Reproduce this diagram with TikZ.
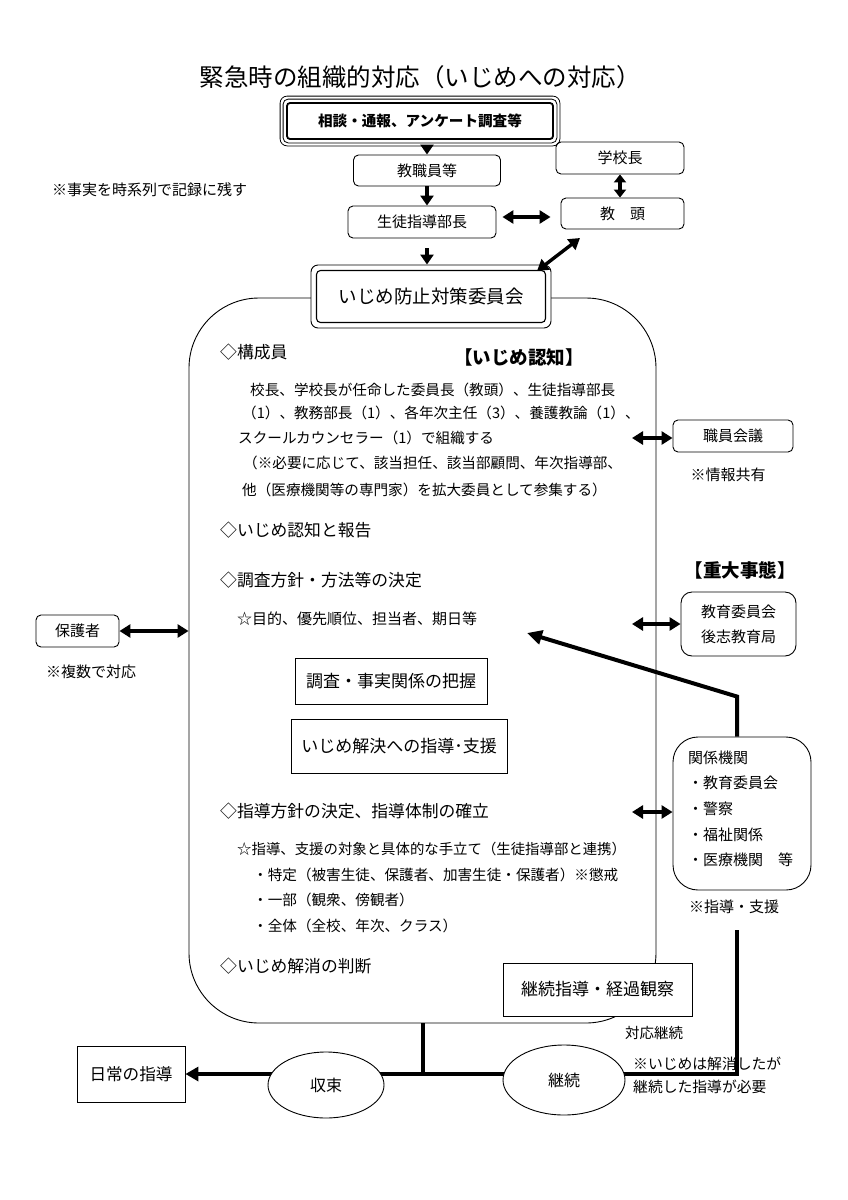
\documentclass[tikz,border=0pt]{standalone}
\usepackage{fontspec}
\newfontfamily\jp{Noto Sans CJK JP}
\usetikzlibrary{shapes.geometric,arrows.meta,calc}
\newcommand{\fsz}[1]{\fontsize{#1}{#1}\selectfont}
\begin{document}
\begin{tikzpicture}[x=1pt,y=-1pt,
  every node/.style={font=\jp},
  box/.style={draw, line width=0.9pt, rounded corners=5pt, inner sep=0pt, font=\jp\fsz{15}},
  sq/.style={draw, line width=0.9pt, inner sep=0pt, font=\jp\fsz{17}},
  txt/.style={anchor=west, inner sep=0pt, font=\jp\fsz{14.6}},
  head/.style={anchor=west, inner sep=0pt, font=\jp\fsz{16.8}},
  note/.style={inner sep=0pt, font=\jp\fsz{15}},
  darr/.style={line width=3.4pt, {Triangle[length=11pt,width=13pt]}-{Triangle[length=11pt,width=13pt]}},
  sdarr/.style={line width=3.4pt, {Triangle[length=8pt,width=12pt]}-{Triangle[length=8pt,width=12pt]}},
  arr/.style={line width=3.4pt, -{Triangle[length=10pt,width=13pt]}},
  thk/.style={line width=4pt},
]
\useasboundingbox (0,0) rectangle (848,1200);

% title
\node[font=\jp\fsz{24.5}] (title) at (420,77) {緊急時の組織的対応（いじめへの対応）};

% top box with triple frame
\node[draw, line width=1.8pt, rounded corners=3pt, inner sep=0pt, minimum width=266pt, minimum height=36pt, font=\jp\bfseries\fsz{14.6}] (soudan) at (420,121) {相談・通報、アンケート調査等};
\draw[line width=0.8pt, rounded corners=5pt] ($(soudan.north west)+(-3,-3)$) rectangle ($(soudan.south east)+(3,3)$);
\draw[line width=0.8pt, rounded corners=7pt] ($(soudan.north west)+(-6,-6)$) rectangle ($(soudan.south east)+(6,6)$);

\node[box, minimum width=147pt, minimum height=31pt] (kyo) at (427,170.5) {教職員等};
\node[box, minimum width=148pt, minimum height=32pt] (seito) at (422,222) {生徒指導部長};
\node[box, minimum width=128pt, minimum height=32pt] (gakko) at (620,158) {学校長};
\node[box, minimum width=123pt, minimum height=31pt] (kyoto) at (622.5,213.5) {教　頭};

\node[note, anchor=west] (n1) at (52,190) {※事実を時系列で記録に残す};

% main rounded box
\node[draw, line width=0.9pt, rounded corners=70pt, minimum width=467pt, minimum height=725pt, inner sep=0pt] (main) at (422.5,660.5) {};

% committee box (double frame)
\node[draw, fill=white, line width=0.9pt, rounded corners=7pt, minimum width=240pt, minimum height=63pt, inner sep=0pt] (iinkaiO) at (431,296.5) {};
\node[draw, line width=1.1pt, rounded corners=4pt, minimum width=229pt, minimum height=52pt, inner sep=0pt, font=\jp\fsz{18.5}] (iinkai) at (iinkaiO) {いじめ防止対策委員会};

% top arrows
\draw[arr] ($(soudan.south -| kyo.north)+(0,6)$) -- (kyo.north);
\draw[arr] (kyo.south) -- (kyo.south |- seito.north);
\draw[arr] ($(kyo.south |- seito.south)+(0,10)$) -- (kyo.south |- iinkaiO.north);
\draw[darr] ($(seito.east)+(6,-5)$) -- ($(kyoto.west |- seito.east)+(-10,-5)$);
\draw[sdarr] (gakko.south) -- (gakko.south |- kyoto.north);
\coordinate (dA) at (537,271);
\coordinate (dB) at (580,238);
\draw[darr] (dA) -- (dB);

% contents of the main box
\node[head] (h1) at (220,352) {◇構成員};
\node[font=\jp\bfseries\fsz{18.5}, inner sep=0pt] (ninchi) at (519,357) {【いじめ認知】};
\node[txt] (m1) at (250,390) {校長、学校長が任命した委員長（教頭）、生徒指導部長};
\node[txt] (m2) at (242,413) {（1）、教務部長（1）、各年次主任（3）、養護教論（1）、};
\node[txt] (m3) at (238,438) {スクールカウンセラー（1）で組織する};
\node[txt] (m4) at (243,463) {（※必要に応じて、該当担任、該当部顧問、年次指導部、};
\node[txt] (m5) at (242,490) {他（医療機関等の専門家）を拡大委員として参集する）};

\node[head] (h2) at (220,530) {◇いじめ認知と報告};
\node[head] (h3) at (220,580) {◇調査方針・方法等の決定};
\node[txt, font=\jp\fsz{15}] (s1) at (237,619) {☆目的、優先順位、担当者、期日等};

\node[sq, minimum width=192pt, minimum height=46pt] (chousa) at (391,681) {調査・事実関係の把握};
\node[sq, minimum width=216pt, minimum height=54pt] (kaiketsu) at (399,746) {いじめ解決への指導･支援};

\node[head] (h4) at (220,811) {◇指導方針の決定、指導体制の確立};
\node[txt, font=\jp\fsz{14.4}] (s2) at (237,849) {☆指導、支援の対象と具体的な手立て（生徒指導部と連携）};
\node[txt] (b1) at (253,875) {・特定（被害生徒、保護者、加害生徒・保護者）※懲戒};
\node[txt] (b2) at (253,900) {・一部（観衆、傍観者）};
\node[txt] (b3) at (253,926) {・全体（全校、年次、クラス）};
\node[head] (h5) at (220,966) {◇いじめ解消の判断};

\node[sq, fill=white, minimum width=189pt, minimum height=53pt] (keizoku) at (597.5,989.5) {継続指導・経過観察};
\node[note, font=\jp\fsz{14.5}] (taiou) at (654,1033) {対応継続};

% right side
\node[box, minimum width=120pt, minimum height=32pt] (shokuin) at (733,436) {職員会議};
\node[note] (n2) at (728,475) {※情報共有};
\coordinate (r1) at (632,438);
\draw[darr] (r1) -- (shokuin.west |- r1);

\node[font=\jp\bfseries\fsz{18.5}, inner sep=0pt] (juudai) at (740,570) {【重大事態】};
\node[draw, line width=0.9pt, rounded corners=11pt, inner sep=0pt, minimum width=115pt, minimum height=64pt, align=center, font=\jp\fontsize{15}{25}\selectfont] (kyoi) at (738.5,624) {教育委員会\\後志教育局};
\coordinate (r2) at (632,624);
\draw[darr] (r2) -- (kyoi.west |- r2);

% left side
\node[box, minimum width=83pt, minimum height=32pt] (hogo) at (77.5,631) {保護者};
\draw[darr] (hogo.east) -- (main.west |- hogo.east);
\node[note] (n3) at (91,672) {※複数で対応};

% related organisations
\node[draw, line width=0.9pt, rounded corners=25pt, minimum width=138pt, minimum height=153pt, inner sep=0pt] (kankei) at (742,813.5) {};
\node[txt, font=\jp\fsz{15}] (k0) at (688,758) {関係機関};
\node[txt, font=\jp\fsz{15}] (k1) at (688,783) {・教育委員会};
\node[txt, font=\jp\fsz{15}] (k2) at (688,809) {・警察};
\node[txt, font=\jp\fsz{15}] (k3) at (688,835) {・福祉関係};
\node[txt, font=\jp\fsz{15}] (k4) at (688,860) {・医療機関　等};
\coordinate (r3) at (632,812);
\draw[darr] (r3) -- (kankei.west |- r3);
\node[note] (n4) at (734,907) {※指導・支援};

\coordinate (tipA) at (527,633);
\draw[thk, -{Triangle[length=15pt,width=14pt]}] ([xshift=-5pt]kankei.north) -- ++(0,-40) -- (tipA);

% bottom
\node[sq, font=\jp\fsz{16.6}, minimum width=108pt, minimum height=56pt] (nichijo) at (131,1074) {日常の指導};
\coordinate (c1) at (737,930);
\draw[thk, -{Triangle[length=13pt,width=14pt]}] (c1) -- (c1 |- nichijo.east) -- (nichijo.east);
\draw[thk] (main.south) -- (main.south |- nichijo.east);

\node[draw, ellipse, fill=white, line width=0.9pt, minimum width=116pt, minimum height=66pt, inner sep=0pt, font=\jp\fsz{16}] (shusoku) at (326,1085) {収束};
\node[draw, ellipse, fill=white, line width=0.9pt, minimum width=122pt, minimum height=70pt, inner sep=0pt, font=\jp\fsz{16}] (keizokuE) at (564,1080) {継続};

\node[txt, font=\jp\fsz{14.8}] (n5) at (633,1064) {※いじめは解消したが};
\node[txt, font=\jp\fsz{14.8}] (n6) at (633,1087) {継続した指導が必要};
\end{tikzpicture}
\end{document}
